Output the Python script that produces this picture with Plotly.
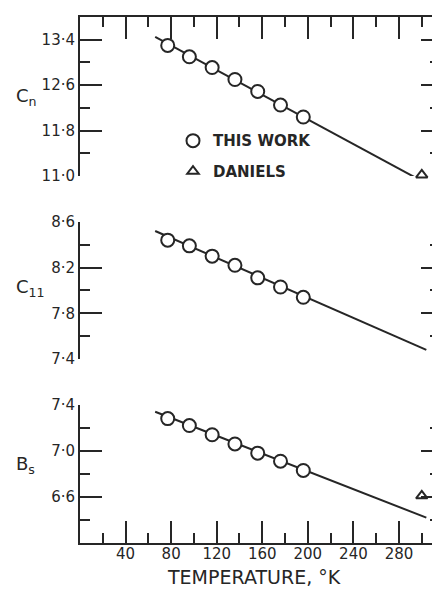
import plotly.graph_objects as go

# ── Data ─────────────────────────────────────────────────────────────────────
temp_work = [77, 96, 116, 136, 156, 176, 196]
cn_work = [13.30, 13.10, 12.91, 12.70, 12.49, 12.25, 12.04]
c11_work = [8.44, 8.39, 8.30, 8.22, 8.11, 8.03, 7.94]
bs_work = [7.28, 7.22, 7.14, 7.06, 6.98, 6.91, 6.83]

temp_daniels = [300]
cn_daniels = [11.02]
c11_daniels = [7.39]
bs_daniels = [6.61]

temp_fit = [66, 304]
cn_fit = [13.45, 10.87]
c11_fit = [8.52, 7.48]
bs_fit = [7.34, 6.42]

x_major = [40, 80, 120, 160, 200, 240, 280]
x_minor = [20, 60, 100, 140, 180, 220, 260, 300]

cn_major = [11.0, 11.8, 12.6, 13.4]
cn_minor = [11.4, 12.2, 13.0]
cn_labels = ["11·0", "11·8", "12·6", "13·4"]

c11_major = [7.4, 7.8, 8.2, 8.6]
c11_minor = [7.6, 8.0, 8.4]
c11_labels = ["7·4", "7·8", "8·2", "8·6"]

bs_major = [6.6, 7.0, 7.4]
bs_minor = [6.4, 6.8, 7.2]
bs_labels = ["6·6", "7·0", "7·4"]

INK = "#262626"
FONT = "DejaVu Sans"

# page has an 8px body margin, so the figure is 8px smaller than the window
OFF = 8
TOP, BOT = 14, 543  # plot area top / bottom in window pixels


def py(pix):
    return (BOT - pix) / (BOT - TOP)


def px(pix):
    return (pix - 80) / 360


circle = dict(symbol="circle", size=13, color="white", line=dict(color=INK, width=2))
tri = dict(symbol="triangle-up-open", size=10, color=INK, line=dict(color=INK, width=2))

fig = go.Figure()
panels = [
    ("x2", "y", cn_work, cn_daniels, cn_fit),
    ("x", "y2", c11_work, c11_daniels, c11_fit),
    ("x", "y3", bs_work, bs_daniels, bs_fit),
]
for i, (xa, ya, work, dan, fit) in enumerate(panels):
    fig.add_trace(go.Scatter(x=temp_fit, y=fit, mode="lines", xaxis=xa, yaxis=ya,
                             line=dict(color=INK, width=2), showlegend=False))
    fig.add_trace(go.Scatter(x=temp_work, y=work, mode="markers", xaxis=xa, yaxis=ya,
                             marker=circle, name="THIS WORK", showlegend=(i == 0),
                             legendgroup="a", cliponaxis=False))
    fig.add_trace(go.Scatter(x=temp_daniels, y=dan, mode="markers", xaxis=xa, yaxis=ya,
                             marker=tri, name="DANIELS", showlegend=(i == 0),
                             legendgroup="b", cliponaxis=False))

# dummy traces so the right-hand tick axes get drawn
for xa, ya in [("x2", "y4"), ("x", "y5"), ("x", "y6")]:
    fig.add_trace(go.Scatter(x=[None], y=[None], xaxis=xa, yaxis=ya,
                             showlegend=False, hoverinfo="skip"))

axis_common = dict(
    showgrid=False, zeroline=False, linecolor=INK, linewidth=2,
    ticks="inside", ticklen=22, tickwidth=2, tickcolor=INK,
    tickfont=dict(family=FONT, size=15, color=INK),
)


def xaxis(side, anchor, labels):
    return dict(
        axis_common, domain=[0, 1], range=[0, 316], anchor=anchor, side=side,
        showline=True, tickmode="array", tickvals=x_major,
        ticktext=[str(v) for v in x_major], showticklabels=labels,
        ticklabelstandoff=-4,
        minor=dict(tickmode="array", tickvals=x_minor, ticks="inside",
                   ticklen=10, tickwidth=2, tickcolor=INK),
    )


def yaxis(dom, rng, major, minor, labels, side="left", overlay=None, anchor="x"):
    d = dict(
        axis_common, domain=dom, range=rng, anchor=anchor, side=side,
        showline=(side == "left"), tickmode="array", tickvals=major,
        ticktext=labels, showticklabels=(side == "left"),
        minor=dict(tickmode="array", tickvals=minor, ticks="inside",
                   ticklen=10, tickwidth=2, tickcolor=INK),
    )
    if side == "right":
        d["ticklen"] = 19
    if overlay:
        d["overlaying"] = overlay
        d.pop("domain")
    return d


dom_top = [py(174), 1]
dom_mid = [py(358), py(220)]
dom_bot = [0, py(404)]

fig.update_layout(
    width=440 - OFF, height=590 - OFF,
    margin=dict(l=80 - OFF, r=0, t=TOP - OFF, b=590 - BOT),
    plot_bgcolor="white", paper_bgcolor="white",
    font=dict(family=FONT, color=INK),
    xaxis=xaxis("bottom", "y3", True),
    xaxis2=dict(xaxis("top", "y", False), matches="x"),
    yaxis=yaxis(dom_top, [11.0, 13.8], cn_major, cn_minor, cn_labels, anchor="x2"),
    yaxis2=yaxis(dom_mid, [7.4, 8.6], c11_major, c11_minor, c11_labels),
    yaxis3=yaxis(dom_bot, [6.2, 7.4], bs_major, bs_minor, bs_labels),
    yaxis4=yaxis(dom_top, [11.0, 13.8], cn_major, cn_minor, cn_labels,
                 side="right", overlay="y", anchor="x2"),
    yaxis5=yaxis(dom_mid, [7.4, 8.6], c11_major, c11_minor, c11_labels,
                 side="right", overlay="y2"),
    yaxis6=yaxis(dom_bot, [6.2, 7.4], bs_major, bs_minor, bs_labels,
                 side="right", overlay="y3"),
    legend=dict(x=px(173), y=py(122), xanchor="left", yanchor="top",
                bgcolor="rgba(0,0,0,0)", traceorder="grouped", tracegroupgap=8,
                font=dict(family=FONT, size=15, color=INK, weight="bold")),
    showlegend=True,
)

ann = dict(xref="paper", yref="paper", showarrow=False,
           font=dict(family=FONT, size=18, color=INK))
fig.add_annotation(ann, text="C<sub>n</sub>", x=px(14), y=py(94), xanchor="left", yanchor="middle")
fig.add_annotation(ann, text="C<sub>11</sub>", x=px(14), y=py(287), xanchor="left", yanchor="middle")
fig.add_annotation(ann, text="B<sub>s</sub>", x=px(14), y=py(465), xanchor="left", yanchor="middle")
fig.add_annotation(dict(ann, font=dict(family=FONT, size=19, color=INK)),
                   text="TEMPERATURE, °K", x=px(254), y=py(577),
                   xanchor="center", yanchor="middle")

fig.write_html("out.html")
